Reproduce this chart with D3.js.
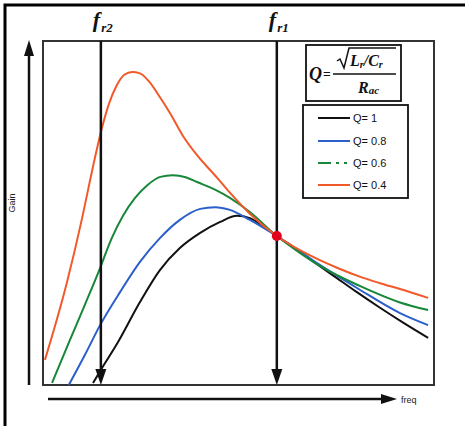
<!DOCTYPE html>
<html><head><meta charset="utf-8">
<script src="https://cdn.jsdelivr.net/npm/d3@7"></script>
<style>body{margin:0;background:#fff}</style>
</head><body>
<script>
// ---- data (normalized frequency 0..100, gain 0..100) ----
const seriesNames = ["Q= 1","Q= 0.8","Q= 0.6","Q= 0.4"];
const seriesColors = ["#111111","#2b5fc9","#17873a","#f2592a"];
const q1 = [[12.8,0.6],[14.8,4.4],[19.2,12.5],[24.8,24.1],[29.9,33.4],[35.0,39.8],[40.2,44.2],[45.3,47.4],[49.6,49.2],[52.9,48.5],[55.9,46.5],[59.8,43.3],[64.5,39.8],[70.0,35.2],[75.0,31.2],[80.0,27.2],[86.0,22.6],[92.0,18.2],[98.5,13.7]];
const q08 = [[6.6,0],[10.7,8.7],[14.6,17.4],[19.7,27.0],[24.8,35.8],[29.9,42.7],[35.0,48.0],[40.2,51.2],[44.0,51.7],[47.8,50.9],[52.9,48.0],[59.8,43.3],[70.8,34.9],[80.3,28.2],[91.3,20.9],[98.5,17.4]];
const q06 = [[2.3,0.6],[6.9,13.1],[10.7,23.3],[14.6,34.0],[17.5,42.5],[20.5,49.3],[23.5,54.3],[26.6,58.0],[30.0,60.5],[33.2,61.0],[36.5,60.4],[39.4,59.0],[44.5,56.5],[47.8,54.4],[52.9,50.3],[59.8,43.3],[65.7,38.4],[70.8,34.6],[81.0,28.8],[91.3,24.0],[98.5,21.8]];
const q04 = [[0.5,7.3],[6.1,29.7],[10.0,48.5],[12.5,62.0],[14.8,73.5],[16.8,81.5],[18.8,87.0],[20.8,90.2],[22.8,91.0],[24.8,90.6],[27.0,88.4],[30.0,83.5],[32.5,79.0],[35.8,72.4],[39.4,66.8],[44.5,60.3],[47.8,55.9],[52.9,49.8],[59.8,43.3],[65.7,39.2],[70.8,36.3],[75.8,33.8],[81.0,31.5],[86.2,29.6],[91.3,27.9],[98.5,25.3]];
const markerFreqs = [14.8, 59.8];
const markerLabels = ["r2","r1"];
const crossPoint = [59.8, 43.3];

const W = 465, H = 426;
const svg = d3.select("body").append("svg").attr("width", W).attr("height", H);

const x = d3.scaleLinear().domain([0,100]).range([43,434]);
const y = d3.scaleLinear().domain([0,100]).range([385,41]);

// outer frame (left + top)
svg.append("path").attr("d","M5,426 L5,5 L465,5").attr("fill","none").attr("stroke","#000").attr("stroke-width",3);

// plot box
svg.append("rect").attr("x",x(0)).attr("y",y(100)).attr("width",x(100)-x(0)).attr("height",y(0)-y(100))
  .attr("fill","none").attr("stroke","#333").attr("stroke-width",2);

// curves
const line = d3.line().x(d=>x(d[0])).y(d=>y(d[1])).curve(d3.curveMonotoneX);
const all = [q1,q08,q06,q04];
all.forEach((s,i)=>{
  svg.append("path").datum(s).attr("d",line).attr("fill","none")
    .attr("stroke",seriesColors[i]).attr("stroke-width",2);
});

// marker vertical arrows
markerFreqs.forEach((f,i)=>{
  const xx = x(f);
  svg.append("line").attr("x1",xx).attr("x2",xx).attr("y1",y(100)).attr("y2",y(0)-12)
    .attr("stroke","#111").attr("stroke-width",2.5);
  svg.append("path").attr("d",`M${xx},${y(0)} L${xx-5.5},${y(0)-16} L${xx+5.5},${y(0)-16} Z`).attr("fill","#111");
  const t = svg.append("text").attr("x",xx-8).attr("y",27)
    .attr("font-family","Liberation Serif, Times New Roman, serif").attr("font-style","italic").attr("font-weight","bold")
    .attr("font-size",22).attr("fill","#111");
  t.append("tspan").text("f");
  t.append("tspan").attr("font-size",13).attr("dy",5).attr("dx",1).text(markerLabels[i]);
});

// crossing dot
svg.append("circle").attr("cx",x(crossPoint[0])).attr("cy",y(crossPoint[1])).attr("r",5).attr("fill","#e3001b");

// y axis arrow
svg.append("line").attr("x1",29).attr("x2",29).attr("y1",385).attr("y2",52).attr("stroke","#111").attr("stroke-width",2.5);
svg.append("path").attr("d","M29,40 L24,56 L34,56 Z").attr("fill","#111");
svg.append("text").attr("transform","translate(15,203) rotate(-90)").attr("text-anchor","middle")
  .attr("font-family","Liberation Sans, Arial, sans-serif").attr("font-size",9).attr("fill","#222").text("Gain");

// x axis arrow
svg.append("line").attr("x1",48).attr("x2",385).attr("y1",399).attr("y2",399).attr("stroke","#111").attr("stroke-width",2.5);
svg.append("path").attr("d","M397,399 L381,394 L381,404 Z").attr("fill","#111");
svg.append("text").attr("x",401).attr("y",403)
  .attr("font-family","Liberation Sans, Arial, sans-serif").attr("font-size",9).attr("fill","#222").text("freq");

// formula box
svg.append("rect").attr("x",306).attr("y",45).attr("width",95).attr("height",56).attr("fill","#fff").attr("stroke","#111").attr("stroke-width",1.8);
const serif = "Liberation Serif, Times New Roman, serif";
svg.append("text").attr("x",309).attr("y",80).attr("font-family",serif).attr("font-style","italic").attr("font-weight","bold").attr("font-size",18).attr("fill","#111").text("Q");
svg.append("text").attr("x",323).attr("y",78).attr("font-family","Liberation Sans, Arial, sans-serif").attr("font-size",13).attr("fill","#111").text("=");
svg.append("line").attr("x1",333).attr("x2",396).attr("y1",74).attr("y2",74).attr("stroke","#111").attr("stroke-width",1.5);
svg.append("path").attr("d","M337,61 L340,59 L344,68 L349,48 L396,48").attr("fill","none").attr("stroke","#111").attr("stroke-width",1.5);
const num = svg.append("text").attr("x",350).attr("y",66).attr("font-family",serif).attr("font-style","italic").attr("font-weight","bold").attr("font-size",16).attr("fill","#111");
num.append("tspan").text("L");
num.append("tspan").attr("font-size",10).attr("dy",2).text("r");
num.append("tspan").attr("dy",-2).text("/C");
num.append("tspan").attr("font-size",10).attr("dy",2).text("r");
const den = svg.append("text").attr("x",358).attr("y",93).attr("font-family",serif).attr("font-style","italic").attr("font-weight","bold").attr("font-size",16).attr("fill","#111");
den.append("tspan").text("R");
den.append("tspan").attr("font-size",11).attr("dy",1).text("ac");

// legend
svg.append("rect").attr("x",303).attr("y",105).attr("width",105).attr("height",93).attr("fill","#fff").attr("stroke","#111").attr("stroke-width",1.8);
const rowsY = [118,141,163,185];
seriesNames.forEach((n,i)=>{
  const ly = rowsY[i];
  const l = svg.append("line").attr("x1",318).attr("x2",350).attr("y1",ly).attr("y2",ly)
    .attr("stroke",seriesColors[i]).attr("stroke-width",2);
  if(i===2) l.attr("stroke-dasharray","13,5,3,5,3,5");
  svg.append("text").attr("x",353).attr("y",ly+4).attr("font-family","Liberation Sans, Arial, sans-serif")
    .attr("font-size",11).attr("fill","#111").text(n);
});
</script>
</body></html>
